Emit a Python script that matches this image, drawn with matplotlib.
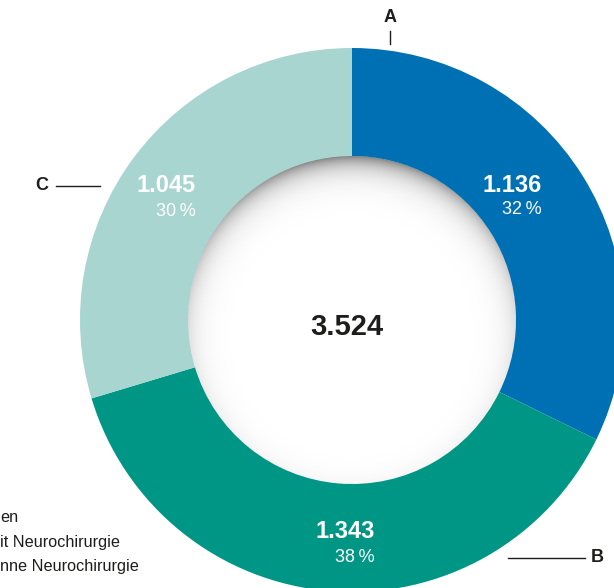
import numpy as np
import matplotlib
matplotlib.use("Agg")
import matplotlib.pyplot as plt
from matplotlib.patches import Circle

# ---- data ----
categories = ["A", "B", "C"]
values = [1136, 1343, 1045]
colors = ["#0070b5", "#009686", "#a8d5cf"]
legend_fragments = ["en", "it Neurochirurgie", "nne Neurochirurgie"]

W, H = 614, 588
fig = plt.figure(figsize=(W / 100, H / 100), dpi=100)
ax = fig.add_axes([0, 0, 1, 1])

FAM = ["Liberation Sans", "DejaVu Sans"]
TXT = "#1d1d1b"

def Y(y):  # pixel y from top -> data y
    return H - y

cx, cy = 352, Y(320)
r_out, r_in = 272, 164

ax.pie(values, colors=colors, radius=r_out, center=(cx, cy), startangle=90,
       counterclock=False, wedgeprops=dict(width=r_out - r_in, linewidth=0),
       frame=False)

# inner shadow in the hole
xs = np.arange(cx - r_in - 2, cx + r_in + 2, 0.5)
ys = np.arange(cy - r_in - 2, cy + r_in + 2, 0.5)
XX, YY = np.meshgrid(xs, ys)
d_off, s, amax = 16.0, 12.0, 0.5
dist = np.hypot(XX - cx, YY - (cy - d_off))
alpha = np.clip(amax * np.exp(-(r_in + d_off - dist) / s), 0, amax)
img = np.zeros(XX.shape + (4,))
img[..., 3] = alpha
hole = Circle((cx, cy), r_in, facecolor="none", edgecolor="none")
ax.add_patch(hole)
im = ax.imshow(img, extent=(xs[0], xs[-1], ys[0], ys[-1]), origin="lower",
               zorder=3, interpolation="bilinear")
im.set_clip_path(hole)

total = sum(values)
def fmt(v):
    return f"{v:,}".replace(",", ".")

# value labels (right-aligned anchors in pixels)
anchors = {"A": (542, 185, 210), "B": (375, 531, 557), "C": (196, 185, 212)}
for cat, v in zip(categories, values):
    x, y1, y2 = anchors[cat]
    pct = round(v / total * 100)
    ax.text(x, Y(y1), fmt(v), ha="right", va="center", color="white",
            fontsize=17, fontweight="bold", family=FAM, zorder=5)
    ax.text(x, Y(y2), f"{pct}\u2009%", ha="right", va="center", color="white",
            fontsize=13, family=FAM, zorder=5)

ax.text(347, Y(327), fmt(total), ha="center", va="center", color=TXT,
        fontsize=21, fontweight="bold", family=FAM, zorder=5)

# category callouts
ax.text(390, Y(18), categories[0], ha="center", va="center", color=TXT,
        fontsize=13, fontweight="bold", family=FAM)
ax.plot([390, 390], [Y(31), Y(44)], color=TXT, lw=1)
ax.text(42, Y(186), categories[2], ha="center", va="center", color=TXT,
        fontsize=13, fontweight="bold", family=FAM)
ax.plot([56, 100], [Y(186), Y(186)], color=TXT, lw=1)
ax.text(597, Y(558), categories[1], ha="center", va="center", color=TXT,
        fontsize=13, fontweight="bold", family=FAM)
ax.plot([508, 585], [Y(558), Y(558)], color=TXT, lw=1)

# cropped legend text
for frag, y in zip(legend_fragments, [518, 543, 567]):
    ax.text(0, Y(y), frag, ha="left", va="center", color=TXT, fontsize=11.7,
            family=FAM)

ax.set_xlim(0, W)
ax.set_ylim(0, H)
ax.set_aspect("equal")
ax.axis("off")
fig.savefig("out.png", dpi=100)
